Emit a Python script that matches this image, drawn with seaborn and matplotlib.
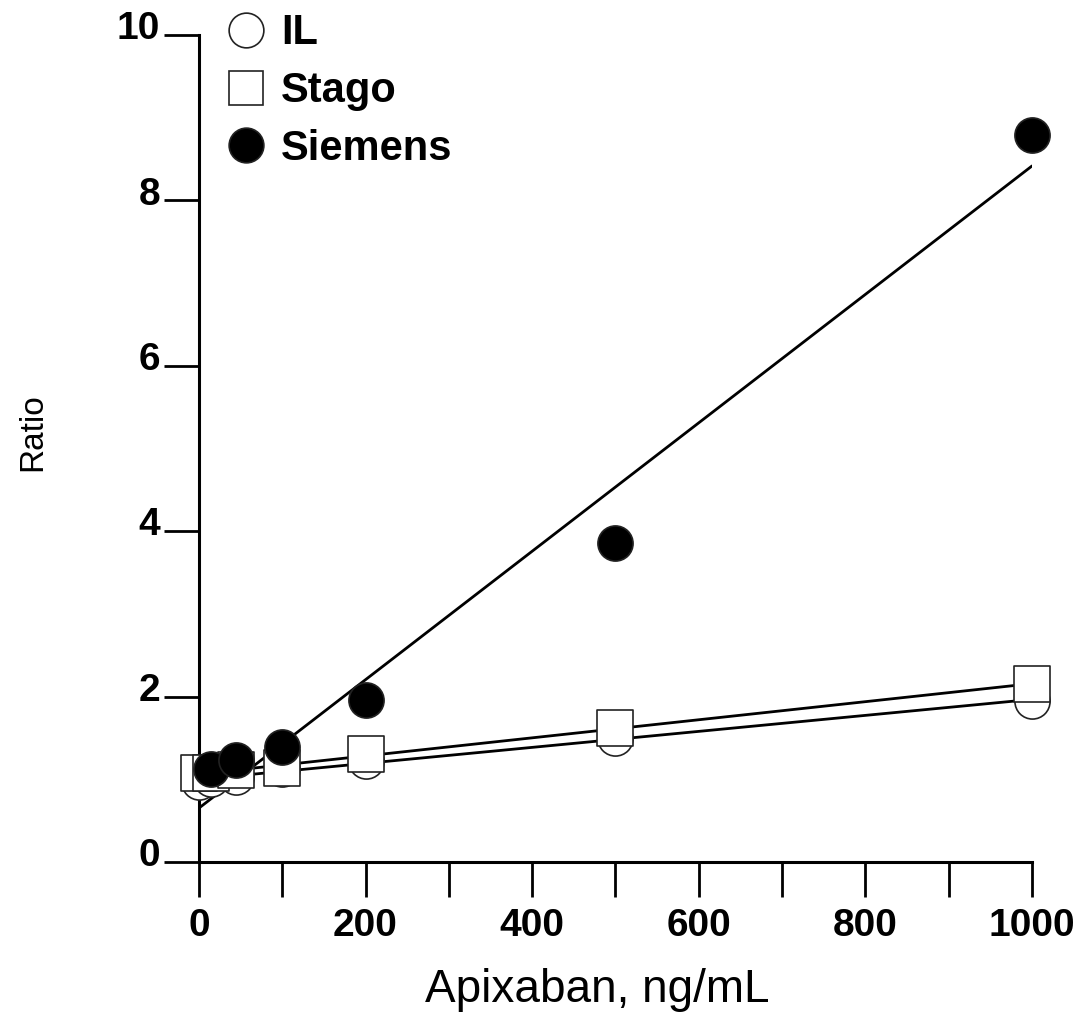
import matplotlib
matplotlib.use("Agg")
import matplotlib.pyplot as plt
from matplotlib.ticker import MultipleLocator
from matplotlib.transforms import ScaledTranslation
import pandas as pd
import seaborn as sns

sns.set_style("white")
plt.rcParams["font.family"] = ["Liberation Sans", "DejaVu Sans"]
plt.rcParams.update({"text.color": "black", "axes.labelcolor": "black",
                     "xtick.color": "black", "ytick.color": "black"})

# apixaban concentration (ng/mL) and ratio per assay
il_conc = [0, 15, 45, 100, 200, 500, 1000]
il_ratio = [0.97, 1.00, 1.03, 1.12, 1.22, 1.50, 1.95]

stago_conc = [0, 15, 45, 100, 200, 500, 1000]
stago_ratio = [1.07, 1.08, 1.11, 1.14, 1.31, 1.62, 2.15]

siemens_conc = [15, 45, 100, 200, 500, 1000]
siemens_ratio = [1.12, 1.23, 1.39, 1.96, 3.86, 8.79]

x_ticks = [0, 200, 400, 600, 800, 1000]
y_ticks = [0, 2, 4, 6, 8, 10]

series = [
    ("IL", il_conc, il_ratio, "o", "white", 3),
    ("Stago", stago_conc, stago_ratio, "s", "white", 4),
    ("Siemens", siemens_conc, siemens_ratio, "o", "black", 5),
]

fig = plt.figure(figsize=(10.81, 10.16), dpi=100)
ax = fig.add_axes([0.184, 0.1516, 0.7707, 0.814])
ax.set_xlim(0, 1000)
ax.set_ylim(0, 10)

handles = []
for name, conc, ratio, marker, face, z in series:
    df = pd.DataFrame({"conc": conc, "ratio": ratio})
    sns.regplot(data=df, x="conc", y="ratio", ax=ax, scatter=False, ci=None,
                truncate=False, color="black",
                line_kws={"linewidth": 2.0, "zorder": 2})
    sns.scatterplot(data=df, x="conc", y="ratio", ax=ax, marker=marker,
                    s=640, color=face, edgecolor="#222222", linewidth=1.2,
                    zorder=z, clip_on=False)
    handles.append(plt.Line2D([], [], linestyle="none", marker=marker,
                              markersize=25, markerfacecolor=face,
                              markeredgecolor="#222222", markeredgewidth=1.2,
                              label=name))

ax.set_xlim(0, 1000)
ax.set_ylim(0, 10)
ax.set_xticks(x_ticks)
ax.set_yticks(y_ticks)
ax.xaxis.set_minor_locator(MultipleLocator(100))

sns.despine(ax=ax)
for side in ["left", "bottom"]:
    ax.spines[side].set_linewidth(2.2)
    ax.spines[side].set_color("black")

ax.tick_params(axis="both", which="both", direction="out", length=25,
               width=2.0, color="black", bottom=True, left=True)
ax.tick_params(axis="x", pad=8)
ax.tick_params(axis="y", pad=3)
for lab in ax.get_xticklabels() + ax.get_yticklabels():
    lab.set_fontsize(28)
    lab.set_fontweight("bold")
# y tick labels sit a little above their ticks in the original
shift_up = ScaledTranslation(0, 7 / 72, fig.dpi_scale_trans)
for lab in ax.get_yticklabels():
    lab.set_transform(lab.get_transform() + shift_up)

ax.set_xlabel("Apixaban, ng/mL", fontsize=33)
ax.set_ylabel("Ratio", fontsize=24)
ax.xaxis.set_label_coords(0.478, -0.128)
ax.yaxis.set_label_coords(-0.181, 0.52)

ax.legend(handles=handles, loc="upper left", bbox_to_anchor=(0.208, 0.987),
          bbox_transform=fig.transFigure, frameon=False, borderpad=0,
          borderaxespad=0, handlelength=1.0, handletextpad=0.35,
          labelspacing=0.43, prop={"size": 30, "weight": "bold"})

fig.savefig("out.png", dpi=100)
